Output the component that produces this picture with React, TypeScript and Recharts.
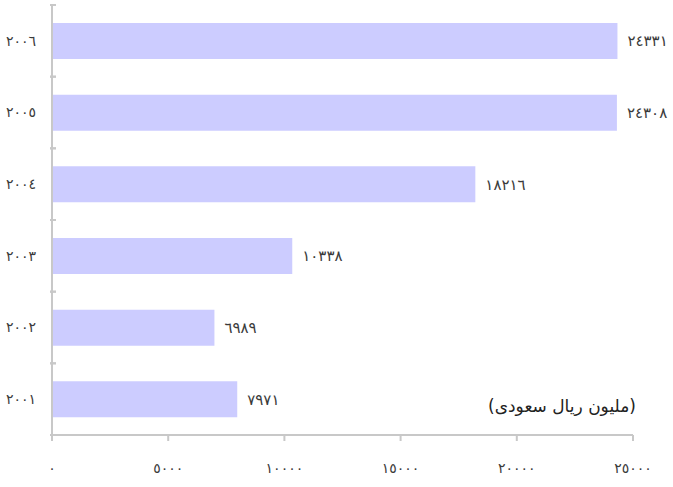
import React from "react";
import { BarChart, Bar, XAxis, YAxis } from "recharts";

// Saudi revenue, million SAR
const years = ["2001", "2002", "2003", "2004", "2005", "2006"];
const values = [7971, 6989, 10338, 18216, 24308, 24331];
const xTicks = [0, 5000, 10000, 15000, 20000, 25000];

const unitLabel = "(مليون ريال سعودى)";

const toArabicDigits = (v: number | string) =>
  String(v).replace(/[0-9]/g, (d) => "٠١٢٣٤٥٦٧٨٩"[Number(d)]);

// newest year on top
const data = years.map((year, i) => ({ year, value: values[i] })).reverse();

const font = "'DejaVu Sans', sans-serif";
const axisColor = "#c8c8c8";
const textColor = "#3a3a3a";
const band = (487 - 5 - 52) / years.length;

// category label plus tick marks on the band edges (Excel style)
const YearTick = (props: any) => {
  const { x, y, payload } = props;
  return (
    <g>
      <line x1={x + 4} x2={x + 10} y1={y - band / 2} y2={y - band / 2} stroke={axisColor} strokeWidth={2} />
      <line x1={x + 4} x2={x + 10} y1={y + band / 2} y2={y + band / 2} stroke={axisColor} strokeWidth={2} />
      <text x={x - 10} y={y} dy="0.35em" textAnchor="end" fill={textColor} fontSize={14} fontFamily={font}>
        {toArabicDigits(payload.value)}
      </text>
    </g>
  );
};

const ValueLabel = (props: any) => {
  const { x, y, width, height, value } = props;
  return (
    <text x={x + width + 10} y={y + height / 2} dy="0.35em" textAnchor="start" fill={textColor} fontSize={15} fontFamily={font}>
      {toArabicDigits(value)}
    </text>
  );
};

export default function App() {
  return (
    <div style={{ position: "absolute", left: 0, top: 0, width: 673, height: 487, fontFamily: font }}>
      <BarChart
        width={673}
        height={487}
        data={data}
        layout="vertical"
        margin={{ top: 5, right: 40, left: 0, bottom: 0 }}
      >
        <XAxis
          type="number"
          domain={[0, 25000]}
          ticks={xTicks}
          height={52}
          stroke={axisColor}
          strokeWidth={2}
          tickSize={6}
          tickMargin={22}
          tickFormatter={toArabicDigits}
          tick={{ fill: textColor, fontSize: 14, fontFamily: font }}
        />
        <YAxis
          type="category"
          dataKey="year"
          width={52}
          stroke={axisColor}
          strokeWidth={2}
          tickLine={false}
          tickMargin={0}
          tick={<YearTick />}
        />
        <Bar dataKey="value" fill="#ccccff" barSize={36} isAnimationActive={false} label={<ValueLabel />} />
      </BarChart>
      <div
        style={{
          position: "absolute",
          left: 462,
          top: 396,
          width: 200,
          textAlign: "center",
          fontSize: 17,
          color: "#222",
          direction: "rtl",
        }}
      >
        {unitLabel}
      </div>
    </div>
  );
}
